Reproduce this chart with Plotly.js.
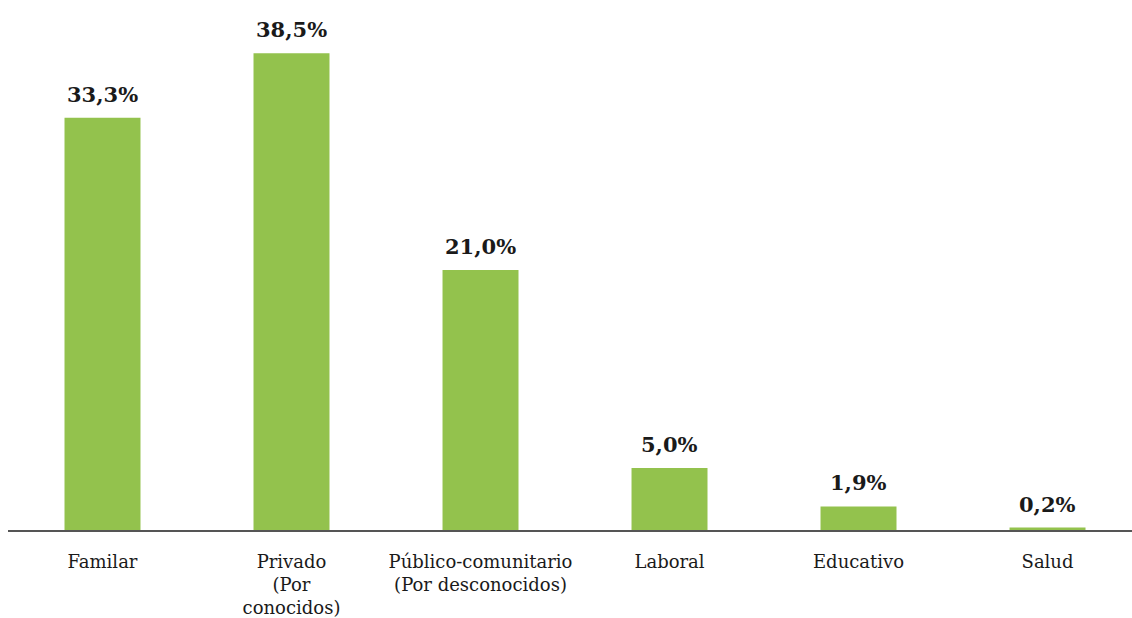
<!DOCTYPE html>
<html>
<head>
<meta charset="utf-8">
<script src="https://cdn.plot.ly/plotly-3.0.1.min.js"></script>
<style>html,body{margin:0;padding:0;background:#fff;}#chart{width:1132px;height:618px;}</style>
</head>
<body>
<div id="chart"></div>
<script>
const categories = ["Familar", "Privado<br>(Por<br>conocidos)", "Público-comunitario<br>(Por desconocidos)", "Laboral", "Educativo", "Salud"];
const values = [33.3, 38.5, 21.0, 5.0, 1.9, 0.2];
const valueLabels = ["33,3%", "38,5%", "21,0%", "5,0%", "1,9%", "0,2%"];

const trace = {
  type: "bar",
  x: categories,
  y: values,
  marker: {color: "#93c24d"},
  hoverinfo: "skip"
};

const annotations = categories.map((c, i) => ({
  x: c, y: values[i], xref: "x", yref: "y",
  text: valueLabels[i], showarrow: false,
  yanchor: "bottom", yshift: 9,
  font: {family: "DejaVu Serif", size: 21, color: "#1a1a1a", weight: "bold"}
}));

const layout = {
  width: 1132, height: 618,
  margin: {l: 8, r: 0, t: 10, b: 88},
  paper_bgcolor: "#fff", plot_bgcolor: "#fff",
  bargap: 0.598,
  showlegend: false,
  xaxis: {
    type: "category",
    range: [-0.5, 5.447],
    showline: true, linecolor: "#555", linewidth: 2,
    ticks: "outside", ticklen: 14, tickcolor: "rgba(0,0,0,0)",
    tickfont: {family: "DejaVu Serif", size: 18, color: "#1a1a1a"},
    showgrid: false, zeroline: false, fixedrange: true
  },
  yaxis: {
    range: [0, 42.0], visible: false, showgrid: false, zeroline: false, fixedrange: true
  },
  annotations: annotations
};

Plotly.newPlot("chart", [trace], layout, {displayModeBar: false, staticPlot: true});
</script>
</body>
</html>
